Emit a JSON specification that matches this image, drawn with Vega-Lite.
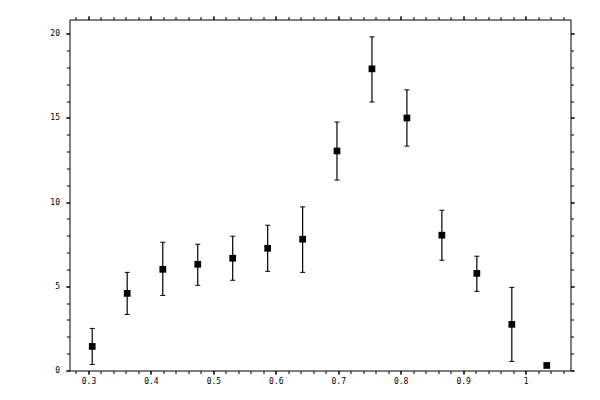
{
  "$schema": "https://vega.github.io/schema/vega-lite/v6.json",
  "autosize": "none",
  "width": 501,
  "height": 351,
  "padding": {"left": 69.5, "top": 19.5, "right": 29.5, "bottom": 29.5},
  "background": "white",
  "config": {
    "view": {"stroke": "black", "strokeWidth": 1},
    "axis": {
      "domain": false,
      "grid": false,
      "tickColor": "black",
      "tickWidth": 1,
      "labelColor": "black",
      "labelFont": "DejaVu Sans Mono",
      "labelFontSize": 8,
      "title": null
    }
  },
  "data": {
    "values": [
      {"x": 0.306, "y": 1.43, "lo": 0.36, "hi": 2.50},
      {"x": 0.362, "y": 4.58, "lo": 3.33, "hi": 5.83},
      {"x": 0.419, "y": 6.01, "lo": 4.46, "hi": 7.62},
      {"x": 0.475, "y": 6.31, "lo": 5.06, "hi": 7.50},
      {"x": 0.531, "y": 6.67, "lo": 5.36, "hi": 7.98},
      {"x": 0.587, "y": 7.26, "lo": 5.89, "hi": 8.63},
      {"x": 0.643, "y": 7.80, "lo": 5.83, "hi": 9.72},
      {"x": 0.698, "y": 13.04, "lo": 11.31, "hi": 14.76},
      {"x": 0.754, "y": 17.92, "lo": 15.95, "hi": 19.82},
      {"x": 0.810, "y": 15.00, "lo": 13.33, "hi": 16.67},
      {"x": 0.866, "y": 8.04, "lo": 6.55, "hi": 9.52},
      {"x": 0.922, "y": 5.77, "lo": 4.70, "hi": 6.79},
      {"x": 0.978, "y": 2.74, "lo": 0.54, "hi": 4.94},
      {"x": 1.034, "y": 0.30, "lo": 0.30, "hi": 0.30}
    ]
  },
  "resolve": {"axis": {"x": "independent", "y": "independent"}},
  "layer": [
    {
      "mark": {"type": "rule", "color": "black", "strokeWidth": 1.2},
      "encoding": {
        "x": {"field": "x", "type": "quantitative",
          "scale": {"domain": [0.2696, 1.072], "nice": false, "zero": false},
          "axis": {"orient": "bottom", "values": [0.3, 0.4, 0.5, 0.6, 0.7, 0.8, 0.9, 1.0], "format": "~g", "tickSize": 4, "labelPadding": 3}},
        "y": {"field": "lo", "type": "quantitative",
          "scale": {"domain": [0, 20.85], "nice": false, "zero": false},
          "axis": {"orient": "left", "values": [0, 5, 10, 15, 20], "format": "~g", "tickSize": 4, "labelPadding": 6}},
        "y2": {"field": "hi"}
      }
    },
    {
      "mark": {"type": "tick", "orient": "horizontal", "color": "black", "size": 5, "thickness": 1, "opacity": 1},
      "encoding": {
        "x": {"field": "x", "type": "quantitative",
          "axis": {"orient": "bottom", "labels": false, "tickSize": 3,
            "values": [0.28, 0.3, 0.32, 0.34, 0.36, 0.38, 0.4, 0.42, 0.44, 0.46, 0.48, 0.5, 0.52, 0.54, 0.56, 0.58, 0.6, 0.62, 0.64, 0.66, 0.68, 0.7, 0.72, 0.74, 0.76, 0.78, 0.8, 0.82, 0.84, 0.86, 0.88, 0.9, 0.92, 0.94, 0.96, 0.98, 1.0, 1.02, 1.04, 1.06]}},
        "y": {"field": "hi", "type": "quantitative",
          "axis": {"orient": "left", "labels": false, "tickSize": 3,
            "values": [0, 1, 2, 3, 4, 5, 6, 7, 8, 9, 10, 11, 12, 13, 14, 15, 16, 17, 18, 19, 20]}}
      }
    },
    {
      "mark": {"type": "tick", "orient": "horizontal", "color": "black", "size": 5, "thickness": 1, "opacity": 1},
      "encoding": {
        "x": {"field": "x", "type": "quantitative",
          "axis": {"orient": "top", "labels": false, "tickSize": 4, "values": [0.3, 0.4, 0.5, 0.6, 0.7, 0.8, 0.9, 1.0]}},
        "y": {"field": "lo", "type": "quantitative",
          "axis": {"orient": "right", "labels": false, "tickSize": 4, "values": [0, 5, 10, 15, 20]}}
      }
    },
    {
      "mark": {"type": "point", "shape": "square", "filled": true, "color": "black", "size": 45, "opacity": 1},
      "encoding": {
        "x": {"field": "x", "type": "quantitative",
          "axis": {"orient": "top", "labels": false, "tickSize": 3,
            "values": [0.28, 0.3, 0.32, 0.34, 0.36, 0.38, 0.4, 0.42, 0.44, 0.46, 0.48, 0.5, 0.52, 0.54, 0.56, 0.58, 0.6, 0.62, 0.64, 0.66, 0.68, 0.7, 0.72, 0.74, 0.76, 0.78, 0.8, 0.82, 0.84, 0.86, 0.88, 0.9, 0.92, 0.94, 0.96, 0.98, 1.0, 1.02, 1.04, 1.06]}},
        "y": {"field": "y", "type": "quantitative",
          "axis": {"orient": "right", "labels": false, "tickSize": 3,
            "values": [0, 1, 2, 3, 4, 5, 6, 7, 8, 9, 10, 11, 12, 13, 14, 15, 16, 17, 18, 19, 20]}}
      }
    }
  ]
}
